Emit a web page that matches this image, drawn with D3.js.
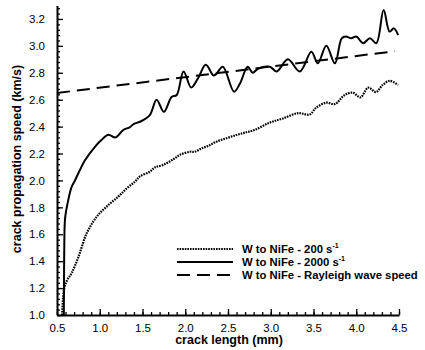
<!DOCTYPE html>
<html>
<head>
<meta charset="utf-8">
<script src="https://cdn.jsdelivr.net/npm/d3@7"></script>
<style>
  body { margin: 0; background: #fff; }
  text { font-family: "Liberation Sans", Arial, sans-serif; }
</style>
</head>
<body>
<div id="chart"></div>
<script>
// crack length (mm) / speed (km/s)
var lenSlow = [0.56,0.585,0.62,0.67,0.75,0.847,0.964,1.10,1.216,1.314,1.41,1.47,1.586,1.645,1.74,1.86,1.937,2.054,2.11,2.19,2.267,2.365,2.48,2.60,2.696,2.81,2.99,3.14,3.32,3.455,3.53,3.65,3.75,3.865,3.96,4.05,4.14,4.23,4.31,4.39,4.49];
var speedSlow = [1.0,1.2,1.26,1.31,1.43,1.607,1.73,1.817,1.879,1.94,1.99,2.03,2.065,2.097,2.115,2.157,2.19,2.213,2.213,2.238,2.256,2.288,2.313,2.338,2.355,2.375,2.43,2.46,2.50,2.49,2.54,2.578,2.568,2.635,2.652,2.618,2.69,2.657,2.71,2.74,2.71];

var lenFast = [0.58,0.585,0.595,0.632,0.67,0.71,0.77,0.827,0.944,1.02,1.10,1.185,1.275,1.35,1.40,1.47,1.585,1.665,1.75,1.84,1.90,1.98,2.07,2.15,2.24,2.33,2.36,2.44,2.57,2.64,2.73,2.79,2.85,2.99,3.07,3.20,3.34,3.475,3.55,3.65,3.75,3.83,3.88,3.94,4.0,4.08,4.16,4.235,4.32,4.39,4.44,4.49];
var speedFast = [1.0,1.5,1.72,1.855,1.95,2.0,2.08,2.15,2.25,2.3,2.34,2.32,2.375,2.395,2.42,2.436,2.486,2.60,2.51,2.62,2.635,2.81,2.69,2.76,2.86,2.78,2.79,2.845,2.66,2.72,2.845,2.80,2.83,2.845,2.81,2.90,2.81,2.957,2.87,3.0,2.87,3.056,3.07,3.056,3.07,3.02,3.056,3.02,3.267,3.106,3.13,3.08];

var lenRayleigh = [0.5, 4.45];
var speedRayleigh = [2.65, 2.96];

var xTicks = [0.5,1.0,1.5,2.0,2.5,3.0,3.5,4.0,4.5];
var yTicks = [1.0,1.2,1.4,1.6,1.8,2.0,2.2,2.4,2.6,2.8,3.0,3.2];

var seriesNames = ["W to NiFe - 200 s", "W to NiFe - 2000 s", "W to NiFe - Rayleigh wave speed"];

var W = 425, H = 350;
var margin = { top: 5.5, right: 26, bottom: 35, left: 57 };
var width = W - margin.left - margin.right,
    height = H - margin.top - margin.bottom;

var svg = d3.select("#chart").append("svg")
  .attr("width", W).attr("height", H);
var g = svg.append("g")
  .attr("transform", "translate(" + margin.left + "," + margin.top + ")");

var x = d3.scaleLinear().domain([0.5, 4.5]).range([0, width]);
var y = d3.scaleLinear().domain([1.0, 3.3]).range([height, 0]);

// minor ticks first, then major with labels
var xMinor = d3.range(0.5, 4.5001, 0.1);
var yMinor = d3.range(1.0, 3.3001, 0.04);

g.append("g")
  .attr("transform", "translate(0," + height + ")")
  .call(d3.axisBottom(x).tickValues(xMinor).tickSize(-3).tickFormat(""))
  .call(function (s) { s.select(".domain").remove(); });
g.append("g")
  .call(d3.axisLeft(y).tickValues(yMinor).tickSize(-3).tickFormat(""))
  .call(function (s) { s.select(".domain").remove(); });

var xAxis = g.append("g")
  .attr("transform", "translate(0," + height + ")")
  .call(d3.axisBottom(x).tickValues(xTicks).tickSize(-6).tickPadding(10).tickSizeOuter(0)
    .tickFormat(d3.format(".1f")));
var yAxis = g.append("g")
  .call(d3.axisLeft(y).tickValues(yTicks).tickSize(-6).tickPadding(12).tickSizeOuter(0)
    .tickFormat(d3.format(".1f")));

g.selectAll(".tick line").attr("stroke", "#000").attr("stroke-width", 1.3);
g.selectAll(".domain").attr("stroke", "#000").attr("stroke-width", 2);
g.selectAll(".tick text").attr("font-size", 11.5).attr("fill", "#000")
  .style("font-family", "Liberation Sans, Arial, sans-serif");
xAxis.selectAll(".tick text").attr("dy", "0.6em");

// axis titles
svg.append("text")
  .attr("x", margin.left + width / 2 + 1)
  .attr("y", 344)
  .attr("text-anchor", "middle")
  .attr("font-size", 12.5).attr("font-weight", "bold")
  .text("crack length (mm)");
svg.append("text")
  .attr("transform", "translate(21," + 159 + ") rotate(-90)")
  .attr("text-anchor", "middle")
  .attr("font-size", 12.5).attr("font-weight", "bold")
  .text("crack propagation speed (km/s)");

// curves
var line = d3.line()
  .x(function (d) { return x(d[0]); })
  .y(function (d) { return y(d[1]); })
  .curve(d3.curveCatmullRom.alpha(0.5));

var slow = d3.zip(lenSlow, speedSlow);
var fast = d3.zip(lenFast, speedFast);
var rayleigh = d3.zip(lenRayleigh, speedRayleigh);

var styles = [
  { dash: "1.6,1", width: 2.2 },
  { dash: null, width: 2 },
  { dash: "13,7", width: 2 }
];

[slow, fast, rayleigh].forEach(function (data, i) {
  g.append("path")
    .datum(data)
    .attr("fill", "none")
    .attr("stroke", "#000")
    .attr("stroke-width", styles[i].width)
    .attr("stroke-dasharray", styles[i].dash)
    .attr("d", line);
});

// legend
var legend = svg.append("g");
var rows = [249, 262, 275];
seriesNames.forEach(function (name, i) {
  legend.append("line")
    .attr("x1", 177).attr("x2", 233)
    .attr("y1", rows[i]).attr("y2", rows[i])
    .attr("stroke", "#000")
    .attr("stroke-width", styles[i].width)
    .attr("stroke-dasharray", styles[i].dash);
  var t = legend.append("text")
    .attr("x", 242).attr("y", rows[i] + 4)
    .attr("font-size", 11.3).attr("font-weight", "bold")
    .text(name);
  if (i < 2) {
    t.append("tspan").attr("font-size", 7).attr("dy", -5).text("-1");
  }
});
</script>
</body>
</html>
